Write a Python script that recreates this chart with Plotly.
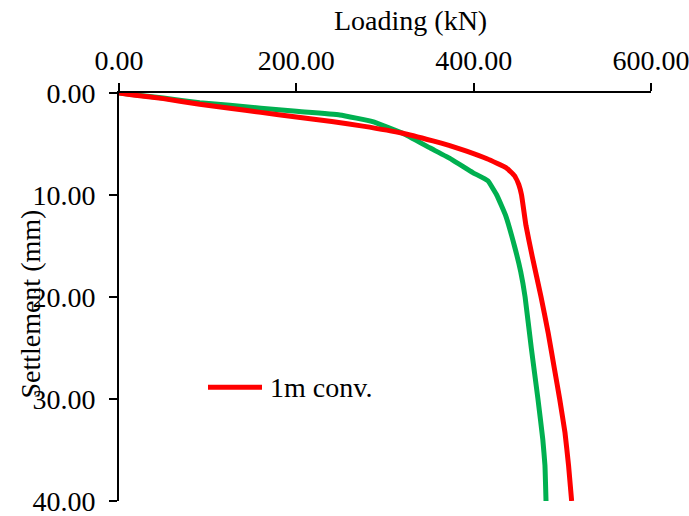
import plotly.graph_objects as go

# Data
red_load = [0, 16, 50, 91, 125, 160, 200, 240, 275, 320, 354, 373, 392, 415, 437, 446, 451, 454, 459, 466, 476, 484, 491, 497, 503, 507, 510.5]
red_settle = [0, 0.2, 0.55, 1.1, 1.5, 1.9, 2.35, 2.8, 3.25, 3.95, 4.7, 5.15, 5.7, 6.45, 7.35, 8.1, 9.0, 10.0, 13.0, 16.0, 20.0, 23.5, 27.0, 30.0, 33.3, 36.5, 40.0]

green_load = [0, 50, 91, 125, 160, 200, 249, 286, 320, 351, 375, 399, 416, 426, 436, 446, 453, 458, 465, 472.5, 478, 480.4, 481.6]
green_settle = [0, 0.5, 0.95, 1.2, 1.5, 1.8, 2.15, 2.8, 3.95, 5.4, 6.5, 7.8, 8.6, 10.0, 12.0, 15.0, 17.5, 20.0, 25.0, 30.0, 34.0, 36.5, 40.0]

x_ticks = [0, 200, 400, 600]
y_ticks = [0, 10, 20, 30, 40]
red_name = "1m conv."
green_name = "series 2"

FONT = "Liberation Serif"
FS = 28
RED = "#ff0000"
GREEN = "#00b050"

fig = go.Figure()
fig.add_trace(go.Scatter(x=green_load, y=green_settle, mode="lines", name=green_name,
                         line=dict(color=GREEN, width=5, shape="spline", smoothing=0.3),
                         showlegend=False))
fig.add_trace(go.Scatter(x=red_load, y=red_settle, mode="lines", name=red_name,
                         line=dict(color=RED, width=5, shape="spline", smoothing=0.3),
                         showlegend=False))

axis_common = dict(showgrid=False, zeroline=False, tickcolor="black", tickwidth=2,
                   ticklen=8, tickfont=dict(family=FONT, size=FS, color="black"),
                   ticklabeloverflow="allow", automargin=False)

fig.update_layout(
    width=689, height=516,
    margin=dict(l=119, r=38, t=93, b=15, autoexpand=False),
    paper_bgcolor="white", plot_bgcolor="white",
    font=dict(family=FONT, size=FS, color="black"),
    xaxis=dict(range=[0, 600], side="top", tickvals=x_ticks, tickformat=".2f",
               ticks="outside", showline=True, linecolor="black", linewidth=2,
               ticklabelstandoff=2, **axis_common),
    yaxis=dict(range=[40, 0], tickvals=y_ticks, tickformat=".2f",
               ticks="outside", showline=True, linecolor="black", linewidth=2,
               ticklabelstandoff=8, **axis_common),
    xaxis2=dict(range=[0, 600], overlaying="x", side="top", anchor="y", tickvals=x_ticks,
                ticks="inside", showticklabels=False, showline=False, **axis_common),
    yaxis2=dict(range=[40, 0], overlaying="y", side="left", anchor="x", tickvals=y_ticks,
                ticks="inside", showticklabels=False, showline=False, **axis_common),
    showlegend=False,
)

# Axis titles
fig.add_annotation(text="Loading (kN)", xref="paper", yref="paper", x=0.547, y=1.1785,
                   showarrow=False, xanchor="center", yanchor="middle",
                   font=dict(family=FONT, size=FS, color="black"))
fig.add_annotation(text="Settlement (mm)", xref="paper", yref="paper", x=-0.167, y=0.4817,
                   showarrow=False, xanchor="center", yanchor="middle", textangle=-90,
                   font=dict(family=FONT, size=FS, color="black"))

# Legend (manual, to match the long line sample)
fig.add_shape(type="line", xref="paper", yref="paper", x0=0.1673, x1=0.2688, y0=0.2787, y1=0.2787,
              line=dict(color=RED, width=5))
fig.add_annotation(text=red_name, xref="paper", yref="paper", x=0.280, y=0.2787,
                   showarrow=False, xanchor="left", yanchor="middle",
                   font=dict(family=FONT, size=FS, color="black"))

fig.write_html("out.html")
